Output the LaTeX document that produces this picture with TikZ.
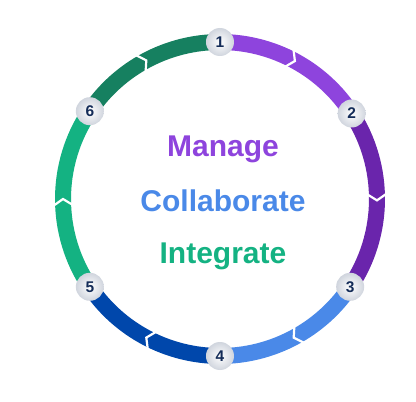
\documentclass[tikz,border=0pt]{standalone}
\usepackage{fontspec}
\setmainfont{Liberation Sans}
\usepackage{tikz}
\usetikzlibrary{backgrounds}

\definecolor{cManage}{RGB}{142,68,221}
\definecolor{cPurple}{RGB}{106,37,172}
\definecolor{cCollab}{RGB}{74,137,232}
\definecolor{cNavy}{RGB}{0,71,171}
\definecolor{cInteg}{RGB}{20,178,130}
\definecolor{cForest}{RGB}{22,128,96}
\definecolor{cNum}{RGB}{20,44,88}

\begin{document}
\begin{tikzpicture}
    [x=1pt,y=1pt,
     step node/.style={circle,minimum size=28pt,inner sep=0pt,
       inner color=white,outer color=cNum!20,
       font=\fontsize{15.5}{15.5}\selectfont\bfseries,text=cNum},
     ring/.style={line width=16pt},
     word/.style={anchor=base,font=\fontsize{30}{30}\selectfont\bfseries}]
    \useasboundingbox (-220,-203) rectangle (196,199);

    \node[step node] (n1) at (90:157)   {1};
    \node[step node] (n2) at (33:157)   {2};
    \node[step node] (n3) at (-34:157)  {3};
    \node[step node] (n4) at (-90:157)  {4};
    \node[step node] (n5) at (-146:157) {5};
    \node[step node] (n6) at (146:157)  {6};

    \begin{scope}[on background layer]
    \draw[ring,cManage] (n1.center) arc[start angle=90,end angle=33,radius=157];
    \draw[ring,cPurple] (n2.center) arc[start angle=33,end angle=-34,radius=157];
    \draw[ring,cCollab] (n3.center) arc[start angle=-34,end angle=-90,radius=157];
    \draw[ring,cNavy]   (n4.center) arc[start angle=-90,end angle=-146,radius=157];
    \draw[ring,cInteg]  (n5.center) arc[start angle=-146,end angle=-214,radius=157];
    \draw[ring,cForest] (n6.center) arc[start angle=146,end angle=90,radius=157];
    % chevrons
    \foreach \m in {61.5,-0.5,-62,-118,-180,-242}
      \draw[white,line width=2.2pt] (\m+2.4:167) -- (\m:157) -- (\m+2.4:147);
    \end{scope}

    \node[word,text=cManage] (manage) at (3,42)  {Manage};
    \node[word,text=cCollab] (collab) at (3,-12) {Collaborate};
    \node[word,text=cInteg]  (integ)  at (3,-64) {Integrate};

  \end{tikzpicture}
\end{document}
